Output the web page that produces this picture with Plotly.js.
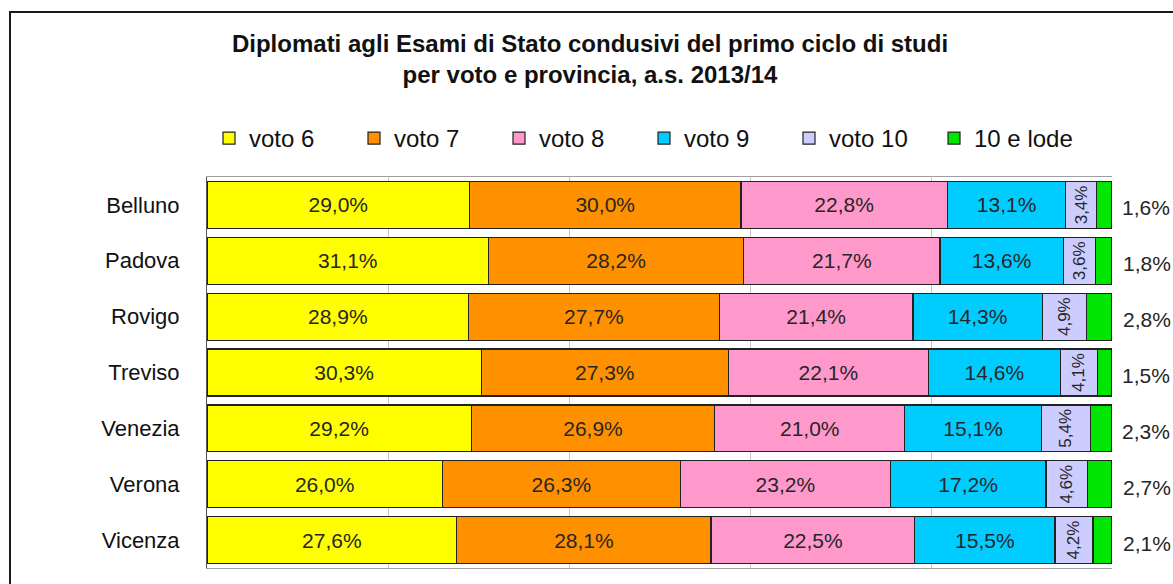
<!DOCTYPE html>
<html>
<head>
<meta charset="utf-8">
<script src="https://cdn.plot.ly/plotly-3.0.1.min.js"></script>
<style>
  html, body { margin:0; padding:0; background:#fff; overflow:hidden; }
  #chart { width:1173px; height:584px; position:absolute; left:0; top:0; }
  #frame { position:absolute; left:9px; top:11px; width:1200px; height:600px; border:2px solid #1a1a1a; pointer-events:none; z-index:5; }
</style>
</head>
<body>
<div id="chart"></div>
<div id="frame"></div>
<script>
// ---- data ----
const provinces = ['Belluno', 'Padova', 'Rovigo', 'Treviso', 'Venezia', 'Verona', 'Vicenza'];
const seriesNames = ['voto 6', 'voto 7', 'voto 8', 'voto 9', 'voto 10', '10 e lode'];
const voto6  = [29.0, 31.1, 28.9, 30.3, 29.2, 26.0, 27.6];
const voto7  = [30.0, 28.2, 27.7, 27.3, 26.9, 26.3, 28.1];
const voto8  = [22.8, 21.7, 21.4, 22.1, 21.0, 23.2, 22.5];
const voto9  = [13.1, 13.6, 14.3, 14.6, 15.1, 17.2, 15.5];
const voto10 = [3.4, 3.6, 4.9, 4.1, 5.4, 4.6, 4.2];
const lode   = [1.6, 1.8, 2.8, 1.5, 2.3, 2.7, 2.1];

// ---- styles ----
const colors = ['#ffff00', '#ff9100', '#ff99cc', '#00ccff', '#ccccff', '#00e600'];
const allSeries = [voto6, voto7, voto8, voto9, voto10, lode];
const FONT = 'Arial, Liberation Sans, sans-serif';
const barTextFont = { family: FONT, size: 21, color: '#262626' };

const traces = allSeries.map((vals, i) => {
  const t = {
    type: 'bar',
    orientation: 'h',
    name: seriesNames[i],
    y: provinces,
    x: vals,
    marker: { color: colors[i], line: { color: '#222', width: 1.2 } },
    texttemplate: '%{x:.1f}%',
    textposition: 'inside',
    insidetextanchor: 'middle',
    constraintext: 'none',
    textfont: barTextFont,
    hoverinfo: 'name+y+x'
  };
  if (i === 4) { t.textangle = -90; t.textfont = Object.assign({}, barTextFont, { size: 17 }); }
  if (i === 5) { t.textposition = 'none'; t.texttemplate = ''; }
  return t;
});

// totals (from the data) to anchor the outside labels of "10 e lode"
const totals = provinces.map((p, k) => allSeries.reduce((s, arr) => s + arr[k], 0));
const fmt = v => v.toFixed(1).replace('.', ',') + '%';
const annotations = provinces.map((p, k) => ({
  x: totals[k], y: p, xref: 'x', yref: 'y',
  text: fmt(lode[k]), showarrow: false,
  xanchor: 'left', xshift: 9, yshift: -3,
  font: { family: FONT, size: 21, color: '#262626' }
}));

const layout = {
  width: 1173, height: 584,
  paper_bgcolor: 'rgba(0,0,0,0)',
  plot_bgcolor: '#ffffff',
  barmode: 'stack',
  bargap: 0.16,
  separators: ', ',
  margin: { l: 207, r: 61, t: 177, b: 16 },
  showlegend: true,
  title: {
    text: '<b>Diplomati agli Esami di Stato condusivi del primo ciclo di studi<br>per voto e provincia, a.s. 2013/14</b>',
    font: { family: 'Liberation Sans Narrow, Arial Narrow, Arial, sans-serif', size: 24, color: '#111' },
    xref: 'container', x: 0.503, xanchor: 'center',
    yref: 'container', y: 1 - 52 / 584, yanchor: 'top'
  },
  legend: {
    orientation: 'h',
    xref: 'container', x: 209 / 1173, xanchor: 'left',
    yref: 'container', y: 1 - 116 / 584, yanchor: 'top',
    font: { family: FONT, size: 24, color: '#111' },
    traceorder: 'normal',
    itemwidth: 30,
    entrywidth: 100,
    tracegroupgap: 0
  },
  xaxis: {
    range: [0, 100],
    dtick: 20,
    showticklabels: false,
    showgrid: true,
    gridcolor: '#c8c8c8',
    gridwidth: 1,
    zeroline: false,
    showline: true,
    mirror: true,
    linecolor: '#a0a0a0',
    linewidth: 1,
    ticks: '',
    fixedrange: true
  },
  yaxis: {
    autorange: 'reversed',
    showgrid: false,
    showline: true,
    linecolor: '#555',
    linewidth: 1,
    ticks: 'outside',
    ticklen: 22,
    tickcolor: 'rgba(0,0,0,0)',
    tickfont: { family: FONT, size: 22, color: '#111' },
    fixedrange: true
  },
  annotations: annotations
};

Plotly.newPlot('chart', traces, layout, { displayModeBar: false, staticPlot: true });
</script>
</body>
</html>
